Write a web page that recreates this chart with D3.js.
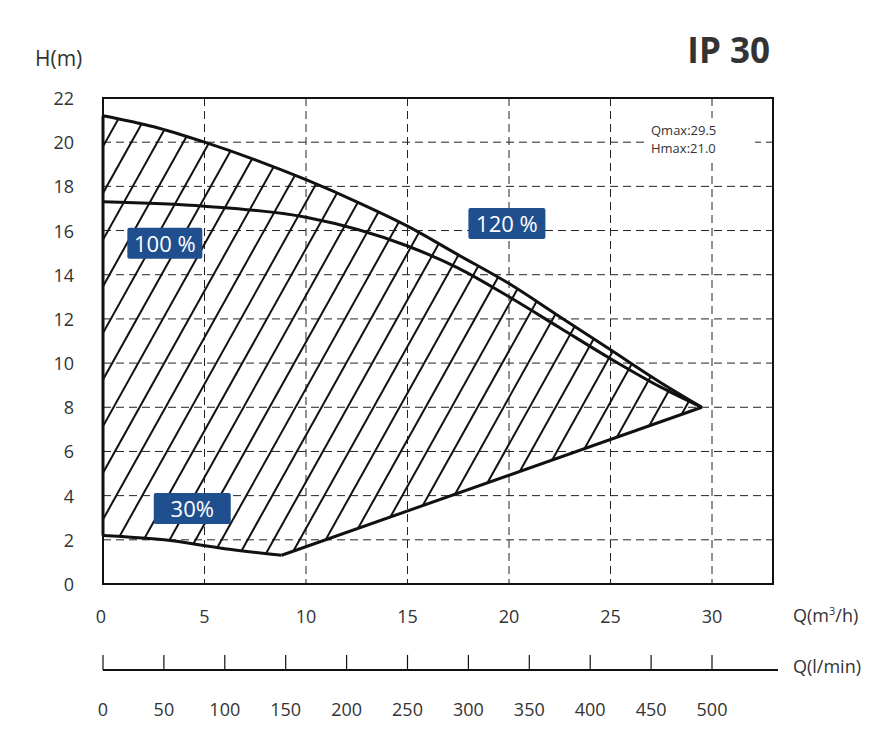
<!DOCTYPE html>
<html><head><meta charset="utf-8">
<script src="https://cdn.jsdelivr.net/npm/d3@7.9.0/dist/d3.min.js"></script>
<style>body{margin:0;background:#fff}text{font-family:"Open Sans",sans-serif;fill:#333}</style>
</head><body><svg id="c" width="895" height="731"></svg>
<script>
const curve120 = [[0,21.2],[2.5,20.7],[5,20.0],[7.5,19.2],[10,18.3],[12.5,17.3],[15,16.2],[17.5,14.9],[20,13.6],[22.5,12.1],[25,10.6],[27.5,9.1],[29.5,8]];
const curve100 = [[0,17.3],[5,17.1],[10,16.6],[15,15.3],[17.5,14.3],[20,13.0],[22.5,11.6],[25,10.2],[27.5,8.9],[29.5,8]];
const curve30 = [[0,2.2],[3,2.0],[6,1.6],[8.8,1.3]];
const curve30tail = [[8.8,1.3],[29.5,8]];
const xTicks = [0,5,10,15,20,25,30];
const yTicks = [0,2,4,6,8,10,12,14,16,18,20,22];
const lminTicks = [0,50,100,150,200,250,300,350,400,450,500];
const labels = [{t:"100 %",q:1.2,h:15.4,w:75},{t:"120 %",q:18.0,h:16.3,w:77},{t:"30%",q:2.5,h:3.4,w:77}];

const svg = d3.select("#c");
const L=103,R=773,T=98,B=584;
const x = d3.scaleLinear().domain([0,30]).range([L,712]);
const y = d3.scaleLinear().domain([0,22]).range([B,T]);
const xl = d3.scaleLinear().domain([0,500]).range([L,712]);

// grid
svg.selectAll(".gx").data(xTicks.slice(1)).join("line")
  .attr("x1",d=>x(d)).attr("x2",d=>x(d)).attr("y1",T).attr("y2",B)
  .attr("stroke","#222").attr("stroke-dasharray","8,5").attr("stroke-width",1);
svg.selectAll(".gy").data(yTicks.slice(1,-1)).join("line")
  .attr("x1",L).attr("x2",R).attr("y1",d=>y(d)).attr("y2",d=>y(d))
  .attr("stroke","#222").attr("stroke-dasharray","8,5").attr("stroke-width",1);
svg.append("rect").attr("x",645).attr("y",118).attr("width",110).attr("height",42).attr("fill","#fff");

// hatch region
const line = d3.line().x(d=>x(d[0])).y(d=>y(d[1])).curve(d3.curveMonotoneX);
const poly = d3.line().x(d=>x(d[0])).y(d=>y(d[1]));
const region = curve120.concat(curve30tail.slice().reverse(), curve30.slice().reverse());
svg.append("clipPath").attr("id","reg").append("path").attr("d",poly(region)+"Z");
const hatch = svg.append("g").attr("clip-path","url(#reg)");
d3.range(-400,700,26).forEach(o=>{
  hatch.append("line").attr("x1",L+o).attr("y1",B).attr("x2",L+o+290).attr("y2",B-520)
    .attr("stroke","#111").attr("stroke-width",2);
});

[curve120,curve100,curve30].forEach(c=>{
  svg.append("path").attr("d",line(c)).attr("fill","none").attr("stroke","#111").attr("stroke-width",3);
});
svg.append("path").attr("d",poly(curve30tail)).attr("fill","none").attr("stroke","#111").attr("stroke-width",3);
svg.append("line").attr("x1",x(0)).attr("x2",x(0)).attr("y1",y(2.2)).attr("y2",y(21.2)).attr("stroke","#111").attr("stroke-width",3);

svg.append("rect").attr("x",L).attr("y",T).attr("width",R-L).attr("height",B-T)
  .attr("fill","none").attr("stroke","#111").attr("stroke-width",2);

// axes labels
svg.selectAll(".xt").data(xTicks).join("text").attr("x",d=>x(d)-(d===0?2:0)).attr("y",623)
  .attr("text-anchor","middle").attr("font-size",18).text(d=>d);
svg.selectAll(".yt").data(yTicks).join("text").attr("x",74).attr("y",d=>y(d)+7)
  .attr("text-anchor","end").attr("font-size",18).text(d=>d);
svg.append("text").attr("x",35).attr("y",66).attr("font-size",21).text("H(m)");
svg.append("text").attr("x",793).attr("y",622).attr("font-size",18).html("Q(m<tspan font-size='11' dy='-7'>3</tspan><tspan dy='7'>/h)</tspan>");
svg.append("text").attr("x",770).attr("y",63).attr("text-anchor","end").attr("font-size",35).attr("font-weight","bold").text("IP 30");
svg.append("text").attr("x",651).attr("y",135).attr("font-size",13).text("Qmax:29.5");
svg.append("text").attr("x",651).attr("y",153).attr("font-size",13).text("Hmax:21.0");

// l/min axis
svg.append("line").attr("x1",L).attr("x2",778).attr("y1",670).attr("y2",670).attr("stroke","#111").attr("stroke-width",2);
svg.selectAll(".lt").data(lminTicks).join("line").attr("x1",d=>xl(d)).attr("x2",d=>xl(d))
  .attr("y1",655).attr("y2",670).attr("stroke","#111").attr("stroke-width",1.2);
svg.selectAll(".ll").data(lminTicks).join("text").attr("x",d=>xl(d)).attr("y",716)
  .attr("text-anchor","middle").attr("font-size",18).text(d=>d);
svg.append("text").attr("x",793).attr("y",673).attr("font-size",18).text("Q(l/min)");

// badges
labels.forEach(l=>{
  const g=svg.append("g");
  g.append("rect").attr("x",x(l.q)).attr("y",y(l.h)-16).attr("width",l.w).attr("height",31).attr("rx",2).attr("fill","#1f4f8f");
  g.append("text").attr("x",x(l.q)+l.w/2).attr("y",y(l.h)+8).attr("text-anchor","middle")
    .attr("font-size",22).style("fill","#fff").text(l.t);
});
</script></body></html>
